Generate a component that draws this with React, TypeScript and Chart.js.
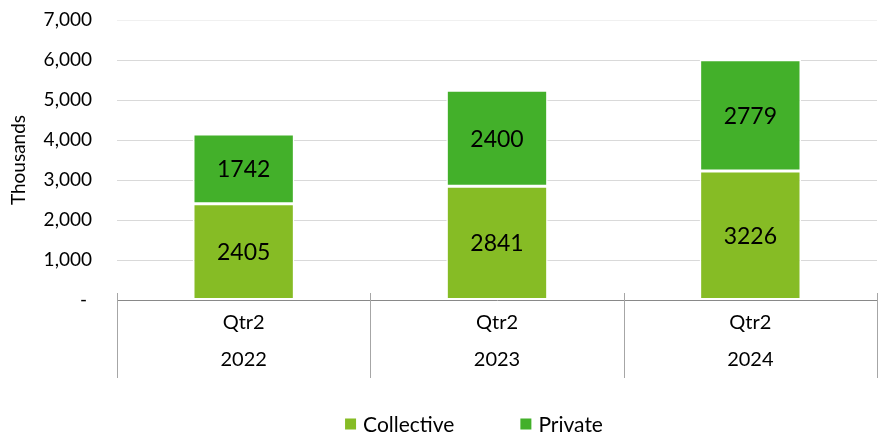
import React, { useEffect, useRef } from "react";
import { Chart, registerables } from "chart.js";

Chart.register(...registerables);

const quarters = ["Qtr2", "Qtr2", "Qtr2"];
const years = ["2022", "2023", "2024"];
const collective = [2405, 2841, 3226];
const privateVals = [1742, 2400, 2779];
const seriesNames = ["Collective", "Private"];
const seriesColors = ["#86BC25", "#43B02A"];
const yMax = 7000;
const yStep = 1000;

const FONT = "Lato, 'Open Sans', sans-serif";

const dataLabelPlugin = {
  id: "dataLabels",
  afterDatasetsDraw(chart: any) {
    const ctx = chart.ctx;
    ctx.save();
    ctx.font = `23px ${FONT}`;
    ctx.fillStyle = "#000";
    ctx.textAlign = "center";
    ctx.textBaseline = "middle";
    chart.data.datasets.forEach((ds: any, di: number) => {
      const meta = chart.getDatasetMeta(di);
      meta.data.forEach((el: any, i: number) => {
        const y = (el.y + el.base) / 2;
        ctx.fillText(String(ds.data[i]), el.x, y + 1);
      });
    });
    ctx.restore();
  },
};

const separatorPlugin = {
  id: "separators",
  afterDraw(chart: any) {
    const ctx = chart.ctx;
    const xs = chart.scales.x;
    const area = chart.chartArea;
    const n = chart.data.labels.length;
    const w = (area.right - area.left) / n;
    ctx.save();
    ctx.strokeStyle = "#a6a6a6";
    ctx.lineWidth = 1;
    for (let i = 0; i <= n; i++) {
      const x = Math.round(area.left + i * w) + 0.5;
      ctx.beginPath();
      ctx.moveTo(x, area.bottom - 7);
      ctx.lineTo(x, xs.bottom);
      ctx.stroke();
    }
    ctx.restore();
  },
};

const legendPlugin = {
  id: "customLegend",
  afterDraw(chart: any) {
    const ctx = chart.ctx;
    ctx.save();
    ctx.font = `21px ${FONT}`;
    ctx.textBaseline = "middle";
    ctx.textAlign = "left";
    const box = 11;
    const gapBoxText = 7;
    const gapItems = 66;
    const widths = seriesNames.map((n) => box + gapBoxText + ctx.measureText(n).width);
    const total = widths.reduce((a, b) => a + b, 0) + gapItems * (seriesNames.length - 1);
    let x = 474 - total / 2;
    const cy = 424;
    seriesNames.forEach((name, i) => {
      ctx.fillStyle = seriesColors[i];
      ctx.fillRect(x, cy - box / 2, box, box);
      ctx.fillStyle = "#000";
      ctx.fillText(name, x + box + gapBoxText, cy + 1);
      x += widths[i] + gapItems;
    });
    ctx.restore();
  },
};

export default function App() {
  const ref = useRef<HTMLCanvasElement>(null);

  useEffect(() => {
    if (!ref.current) return;
    const chart = new Chart(ref.current, {
      type: "bar",
      data: {
        labels: quarters.map((q, i) => [q, years[i]]),
        datasets: [
          {
            label: seriesNames[0],
            data: collective,
            backgroundColor: seriesColors[0],
            borderColor: "#ffffff",
            borderWidth: 1.5,
            borderSkipped: false,
            barPercentage: 0.4,
            categoryPercentage: 1,
          },
          {
            label: seriesNames[1],
            data: privateVals,
            backgroundColor: seriesColors[1],
            borderColor: "#ffffff",
            borderWidth: 1.5,
            borderSkipped: false,
            barPercentage: 0.4,
            categoryPercentage: 1,
          },
        ],
      },
      options: {
        responsive: false,
        animation: false,
        layout: { padding: { left: 0, right: 7, top: 20, bottom: 56 } },
        plugins: {
          legend: { display: false },
          tooltip: { enabled: false },
        },
        scales: {
          x: {
            stacked: true,
            grid: { display: false, drawTicks: false },
            border: { display: true, color: "#898989", width: 1 },
            ticks: {
              color: "#000",
              font: { family: FONT, size: 20, lineHeight: 1.85 },
              padding: 4,
              maxRotation: 0,
              autoSkip: false,
            },
            afterFit(scale: any) {
              scale.height = 78;
            },
          },
          y: {
            stacked: true,
            min: 0,
            max: yMax,
            ticks: {
              stepSize: yStep,
              color: "#000",
              font: { family: FONT, size: 19 },
              padding: 3,
              callback: (v: any) => (Number(v) === 0 ? "- " : Number(v).toLocaleString("en-US")),
            },
            grid: {
              drawTicks: true,
              tickLength: 22,
              tickColor: "rgba(0,0,0,0)",
              color: (c: any) =>
                c.tick && c.tick.value === 0
                  ? "rgba(0,0,0,0)"
                  : c.tick && c.tick.value === yMax
                  ? "#f0f0f0"
                  : "#d9d9d9",
              lineWidth: 1,
            },
            border: { display: false },
            title: {
              display: true,
              text: "Thousands",
              color: "#000",
              font: { family: FONT, size: 19 },
              padding: { top: 7, bottom: 0 },
            },
            afterFit(scale: any) {
              scale.width = 117;
            },
          },
        },
      },
      plugins: [dataLabelPlugin, separatorPlugin, legendPlugin],
    });
    return () => chart.destroy();
  }, []);

  return (
    <div style={{ position: "fixed", left: 0, top: 0, width: 884, height: 434, background: "#fff" }}>
      <canvas ref={ref} width={884} height={434} style={{ display: "block" }} />
    </div>
  );
}
